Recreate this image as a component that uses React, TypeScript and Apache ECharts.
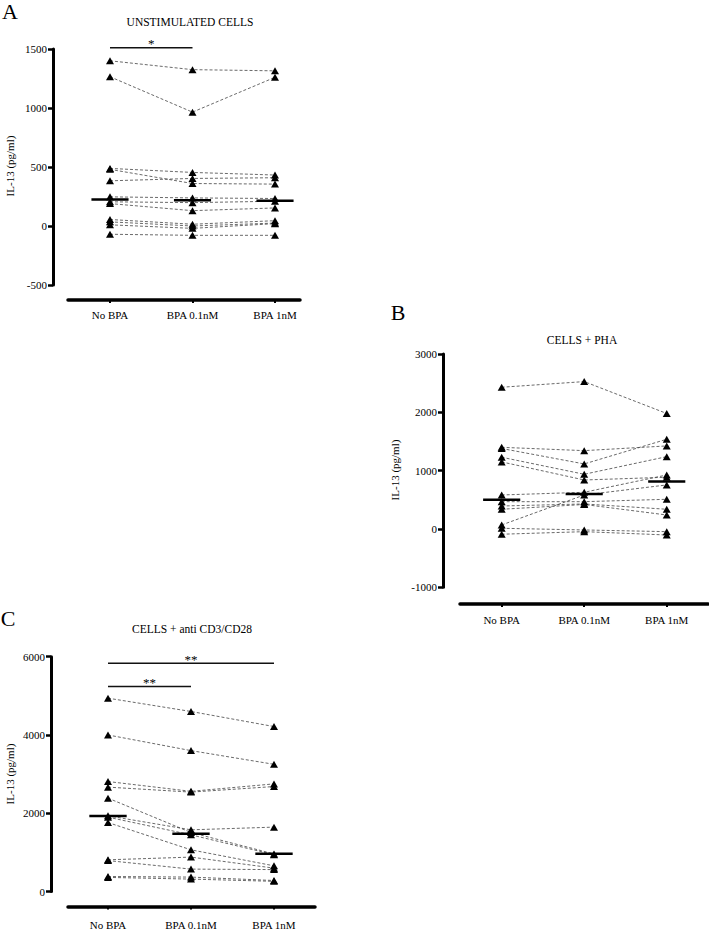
import React, { useEffect, useRef } from "react";
import * as echarts from "echarts";

const categories = ["No BPA", "BPA 0.1nM", "BPA 1nM"];

// Panel A: unstimulated cells (one entry per donor)
const unstimNoBpa = [1400, 1265, 488, 480, 383, 247, 205, 190, 55, 35, 10, -70];
const unstimBpa01 = [1325, 965, 454, 360, 403, 238, 198, 130, 15, 0, -20, -79];
const unstimBpa1 = [1315, 1260, 432, 355, 409, 233, 210, 153, 45, 25, 20, -79];
const unstimMedian = [225, 219, 214];
const unstimTicks = { min: -500, max: 1500, interval: 500 };

// Panel B: cells + PHA
const phaNoBpa = [2430, 1400, 1380, 1230, 1150, 583, 69, 468, 394, 338, 12, -90];
const phaBpa01 = [2527, 1343, 1115, 938, 840, 629, 583, 468, 429, 420, -17, -46];
const phaBpa1 = [1980, 1424, 1538, 1240, 887, 926, 755, 509, 338, 240, -46, -103];
const phaMedian = [500, 600, 815];
const phaTicks = { min: -1000, max: 3000, interval: 1000 };

// Panel C: cells + anti CD3/CD28
const cd3NoBpa = [4940, 4000, 2810, 2667, 2386, 1934, 1900, 1762, 810, 790, 383, 360];
const cd3Bpa01 = [4600, 3600, 2560, 2540, 1507, 1576, 1448, 1065, 879, 572, 368, 317];
const cd3Bpa1 = [4215, 3250, 2750, 2682, 960, 1645, 940, 656, 597, 560, 281, 260];
const cd3Median = [1930, 1475, 965];
const cd3Ticks = { min: 0, max: 6000, interval: 2000 };

// significance annotations: from category, to category, bar value, label, label value
const unstimSig = [{ from: 0, to: 1, y: 1510, label: "*", labelY: 1545 }];
const phaSig: any[] = [];
const cd3Sig = [
  { from: 0, to: 2, y: 5834, label: "**", labelY: 5930 },
  { from: 0, to: 1, y: 5236, label: "**", labelY: 5330 },
];

const panelTitles = ["UNSTIMULATED CELLS", "CELLS + PHA", "CELLS + anti CD3/CD28"];
const panelLetters = ["A", "B", "C"];
const yAxisName = "IL-13 (pg/ml)";

const FONT = "Liberation Serif";

const layouts = [
  { left: 68, top: 49, width: 232, height: 236, yOff: 15, xOff: 15, xMin: -0.509, xMax: 2.303, labelMargin: 9.5,
    title: [190, 22], letter: [10, 11], yname: [10, 166] },
  { left: 460, top: 354, width: 248, height: 233.3, yOff: 17, xOff: 16.7, xMin: -0.505, xMax: 2.5, labelMargin: 10.5,
    title: [582, 340], letter: [398, 312], yname: [395, 470] },
  { left: 68, top: 656.7, width: 247, height: 235, yOff: 17, xOff: 15, xMin: -0.482, xMax: 2.494, labelMargin: 12.5,
    title: [192, 629], letter: [8, 618], yname: [10, 774] },
];

const panels = [
  { a: unstimNoBpa, b: unstimBpa01, c: unstimBpa1, med: unstimMedian, ticks: unstimTicks, sig: unstimSig },
  { a: phaNoBpa, b: phaBpa01, c: phaBpa1, med: phaMedian, ticks: phaTicks, sig: phaSig },
  { a: cd3NoBpa, b: cd3Bpa01, c: cd3Bpa1, med: cd3Median, ticks: cd3Ticks, sig: cd3Sig },
];

function buildOption() {
  const grid: any[] = [];
  const xAxis: any[] = [];
  const yAxis: any[] = [];
  const series: any[] = [];
  const graphic: any[] = [];

  panels.forEach((pd, p) => {
    const L = layouts[p];
    grid.push({ left: L.left, top: L.top, width: L.width, height: L.height, containLabel: false });
    xAxis.push({
      type: "value",
      gridIndex: p,
      min: L.xMin,
      max: L.xMax,
      offset: L.xOff,
      axisLine: { show: true, onZero: false, lineStyle: { color: "#000", width: 3.5 } },
      axisTick: { show: true, customValues: [0, 1, 2], length: 3, lineStyle: { color: "#000", width: 2 } },
      axisLabel: {
        show: true,
        customValues: [0, 1, 2],
        formatter: (v: number) => categories[Math.round(v)],
        fontFamily: FONT,
        fontSize: 11,
        color: "#000",
        margin: L.labelMargin,
      },
      splitLine: { show: false },
    });
    yAxis.push({
      type: "value",
      gridIndex: p,
      min: pd.ticks.min,
      max: pd.ticks.max,
      interval: pd.ticks.interval,
      offset: L.yOff,
      axisLine: { show: true, onZero: false, lineStyle: { color: "#000", width: 3 } },
      axisTick: { show: true, length: 5, lineStyle: { color: "#000", width: 2.5 } },
      axisLabel: {
        fontFamily: FONT,
        fontSize: 11,
        color: "#000",
        margin: 6,
        formatter: (v: number) => String(v),
      },
      splitLine: { show: false },
    });

    for (let i = 0; i < pd.a.length; i++) {
      series.push({
        type: "line",
        xAxisIndex: p,
        yAxisIndex: p,
        data: [
          [0, pd.a[i]],
          [1, pd.b[i]],
          [2, pd.c[i]],
        ],
        symbol: "triangle",
        symbolSize: [8, 7],
        itemStyle: { color: "#000" },
        lineStyle: { color: "#444", width: 0.8, type: [3, 2] },
        z: 2,
        silent: true,
        clip: false,
      });
    }
    pd.med.forEach((m, k) => {
      series.push({
        type: "line",
        xAxisIndex: p,
        yAxisIndex: p,
        data: [
          [k - 0.225, m],
          [k + 0.225, m],
        ],
        symbol: "none",
        lineStyle: { color: "#000", width: 2.5 },
        z: 4,
        silent: true,
      });
    });
    pd.sig.forEach((s: any) => {
      series.push({
        type: "line",
        xAxisIndex: p,
        yAxisIndex: p,
        data: [
          [s.from, s.y],
          [s.to, s.y],
        ],
        symbol: "none",
        lineStyle: { color: "#111", width: 1.5 },
        clip: false,
        silent: true,
      });
    });
    if (pd.sig.length) {
      const sig = pd.sig;
      series.push({
        type: "custom",
        xAxisIndex: p,
        yAxisIndex: p,
        clip: false,
        silent: true,
        itemStyle: { color: "#000" },
        data: sig.map((s: any) => [(s.from + s.to) / 2, s.labelY]),
        renderItem: (params: any, api: any) => {
          const pt = api.coord([api.value(0), api.value(1)]);
          return {
            type: "text",
            x: pt[0],
            y: pt[1],
            style: {
              text: sig[params.dataIndex].label,
              fontSize: 13,
              fontFamily: FONT,
              fill: "#000",
              align: "center",
              verticalAlign: "middle",
            },
          };
        },
      });
    }

    graphic.push({
      type: "text",
      x: L.title[0],
      y: L.title[1],
      style: { text: panelTitles[p], fontSize: 11.5, fontFamily: FONT, fill: "#000", align: "center", verticalAlign: "middle" },
    });
    graphic.push({
      type: "text",
      x: L.letter[0],
      y: L.letter[1],
      style: { text: panelLetters[p], fontSize: 22, fontFamily: FONT, fill: "#000", align: "center", verticalAlign: "middle" },
    });
    graphic.push({
      type: "text",
      x: L.yname[0],
      y: L.yname[1],
      rotation: Math.PI / 2,
      style: { text: yAxisName, fontSize: 11, fontFamily: FONT, fill: "#000", align: "center", verticalAlign: "middle" },
    });
  });

  return {
    animation: false,
    backgroundColor: "#fff",
    grid,
    xAxis,
    yAxis,
    series,
    graphic,
  };
}

export default function App() {
  const ref = useRef<HTMLDivElement>(null);
  useEffect(() => {
    if (!ref.current) return;
    const chart = echarts.init(ref.current, undefined, { renderer: "svg" });
    chart.setOption(buildOption() as any);
    return () => chart.dispose();
  }, []);
  return (
    <div
      ref={ref}
      style={{ position: "absolute", left: 0, top: 0, width: 709, height: 930, background: "#fff" }}
    />
  );
}
